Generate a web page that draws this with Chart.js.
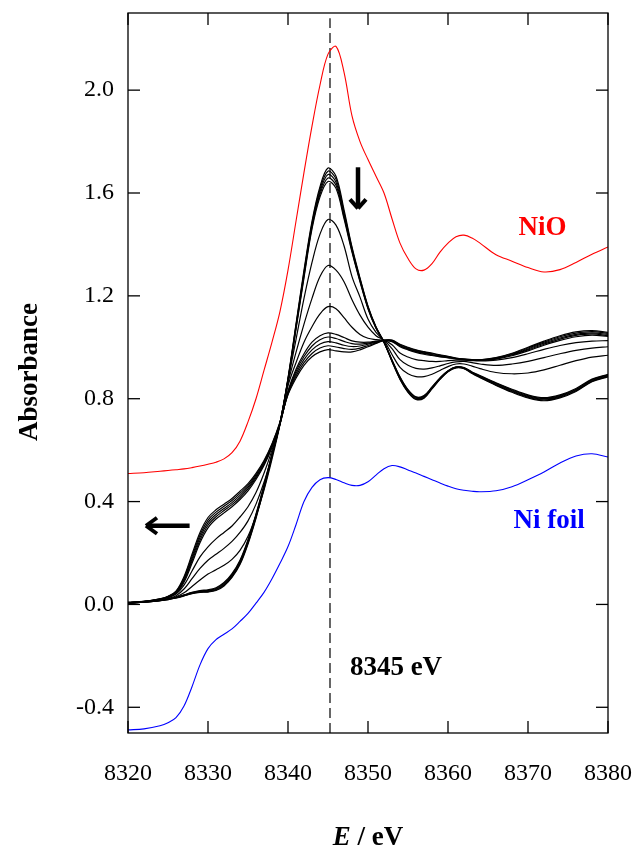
<!DOCTYPE html>
<html>
<head>
<meta charset="utf-8">
<script src="https://cdn.jsdelivr.net/npm/chart.js@4.4.1/dist/chart.umd.min.js"></script>
<style>
    html, body { margin: 0; padding: 0; background: #fff; }
    canvas { display: block; }
</style>
</head>
<body>
<canvas id="xanes" width="635" height="852"></canvas>
<script>
// photon energy grid (eV) shared by every spectrum
const ENERGY = [8320, 8322, 8324, 8325, 8326, 8327, 8328, 8329, 8330, 8331,
    8332, 8333, 8334, 8335, 8336, 8337, 8338, 8339, 8340, 8341,
    8342, 8343, 8344, 8345, 8346, 8347, 8348, 8349, 8350, 8351,
    8352, 8353, 8354, 8355, 8356, 8357, 8358, 8359, 8360, 8361,
    8362, 8363, 8364, 8366, 8368, 8370, 8372, 8374, 8376, 8378, 8380];

// reference spectra (offset)
const NIO = [0.509, 0.512, 0.518, 0.521, 0.524, 0.527, 0.532, 0.538, 0.545, 0.553,
    0.566, 0.59, 0.635, 0.71, 0.80, 0.91, 1.02, 1.14, 1.30, 1.49,
    1.68, 1.86, 2.02, 2.14, 2.17, 2.07, 1.90, 1.80, 1.73, 1.665,
    1.60, 1.50, 1.405, 1.345, 1.305, 1.30, 1.325, 1.37, 1.405, 1.43,
    1.436, 1.425, 1.405, 1.36, 1.335, 1.31, 1.293, 1.302, 1.33, 1.362, 1.39];
const NI_FOIL = [-0.488, -0.484, -0.472, -0.46, -0.44, -0.395, -0.32, -0.235, -0.172, -0.137,
    -0.116, -0.095, -0.066, -0.035, 0.005, 0.047, 0.10, 0.16, 0.225, 0.31,
    0.40, 0.455, 0.485, 0.493, 0.486, 0.473, 0.463, 0.463, 0.477, 0.503,
    0.528, 0.54, 0.535, 0.523, 0.511, 0.498, 0.485, 0.472, 0.46, 0.45,
    0.444, 0.44, 0.438, 0.442, 0.458, 0.485, 0.515, 0.55, 0.577, 0.586, 0.573];

// time series of the sample, first spectrum (high white line) to last
const SCAN_1 = [0.005, 0.009, 0.015, 0.019, 0.025, 0.033, 0.042, 0.047, 0.048, 0.054,
    0.072, 0.105, 0.155, 0.235, 0.335, 0.45, 0.575, 0.705, 0.88, 1.09,
    1.30, 1.49, 1.625, 1.697, 1.665, 1.535, 1.39, 1.27, 1.16, 1.08,
    1.02, 0.945, 0.875, 0.825, 0.797, 0.802, 0.838, 0.875, 0.905, 0.92,
    0.917, 0.898, 0.882, 0.852, 0.825, 0.803, 0.792, 0.803, 0.828, 0.866, 0.885];
const SCAN_2 = [0.005, 0.009, 0.015, 0.019, 0.025, 0.034, 0.043, 0.048, 0.05, 0.056,
    0.075, 0.108, 0.159, 0.239, 0.339, 0.453, 0.577, 0.705, 0.878, 1.085,
    1.292, 1.482, 1.615, 1.685, 1.654, 1.525, 1.385, 1.266, 1.158, 1.078,
    1.02, 0.946, 0.877, 0.827, 0.799, 0.804, 0.84, 0.876, 0.906, 0.921,
    0.918, 0.9, 0.884, 0.854, 0.828, 0.806, 0.795, 0.806, 0.831, 0.868, 0.887];
const SCAN_3 = [0.005, 0.009, 0.015, 0.02, 0.026, 0.035, 0.044, 0.05, 0.052, 0.059,
    0.078, 0.112, 0.163, 0.243, 0.343, 0.457, 0.58, 0.705, 0.875, 1.08,
    1.285, 1.475, 1.605, 1.672, 1.642, 1.515, 1.38, 1.262, 1.155, 1.077,
    1.02, 0.948, 0.88, 0.83, 0.802, 0.807, 0.842, 0.878, 0.907, 0.922,
    0.919, 0.901, 0.886, 0.857, 0.831, 0.809, 0.798, 0.809, 0.834, 0.871, 0.89];
const SCAN_4 = [0.005, 0.01, 0.016, 0.021, 0.027, 0.036, 0.046, 0.052, 0.055, 0.062,
    0.082, 0.116, 0.168, 0.248, 0.348, 0.461, 0.583, 0.706, 0.872, 1.075,
    1.278, 1.468, 1.595, 1.658, 1.63, 1.508, 1.375, 1.258, 1.152, 1.075,
    1.02, 0.95, 0.883, 0.833, 0.805, 0.81, 0.844, 0.88, 0.908, 0.923,
    0.92, 0.903, 0.888, 0.86, 0.834, 0.812, 0.801, 0.812, 0.837, 0.874, 0.893];
const SCAN_5 = [0.005, 0.01, 0.016, 0.021, 0.028, 0.037, 0.047, 0.054, 0.057, 0.065,
    0.085, 0.12, 0.172, 0.252, 0.352, 0.464, 0.586, 0.706, 0.87, 1.07,
    1.27, 1.46, 1.585, 1.645, 1.618, 1.5, 1.37, 1.255, 1.15, 1.074,
    1.02, 0.951, 0.885, 0.835, 0.807, 0.812, 0.846, 0.881, 0.909, 0.924,
    0.921, 0.904, 0.89, 0.862, 0.837, 0.815, 0.804, 0.815, 0.84, 0.876, 0.895];
const SCAN_6 = [0.005, 0.009, 0.016, 0.021, 0.03, 0.045, 0.07, 0.095, 0.118, 0.135,
    0.152, 0.175, 0.21, 0.265, 0.345, 0.445, 0.565, 0.70, 0.87, 1.03,
    1.19, 1.33, 1.44, 1.497, 1.475, 1.395, 1.275, 1.195, 1.11, 1.058,
    1.026, 0.972, 0.922, 0.897, 0.886, 0.886, 0.895, 0.91, 0.925, 0.935,
    0.935, 0.927, 0.917, 0.902, 0.897, 0.9, 0.912, 0.93, 0.948, 0.962, 0.969];
const SCAN_7 = [0.006, 0.01, 0.017, 0.023, 0.034, 0.06, 0.1, 0.14, 0.172, 0.195,
    0.218, 0.245, 0.28, 0.325, 0.39, 0.475, 0.58, 0.70, 0.86, 0.98,
    1.09, 1.19, 1.275, 1.318, 1.30, 1.255, 1.185, 1.125, 1.078, 1.045,
    1.027, 0.995, 0.952, 0.93, 0.918, 0.915, 0.92, 0.928, 0.937, 0.943,
    0.945, 0.94, 0.935, 0.93, 0.935, 0.945, 0.96, 0.975, 0.988, 0.997, 1.002];
const SCAN_8 = [0.007, 0.011, 0.019, 0.026, 0.04, 0.075, 0.13, 0.185, 0.224, 0.255,
    0.28, 0.305, 0.34, 0.38, 0.435, 0.51, 0.60, 0.705, 0.85, 0.94,
    1.02, 1.08, 1.13, 1.158, 1.15, 1.115, 1.078, 1.05, 1.035, 1.03,
    1.027, 1.01, 0.978, 0.962, 0.952, 0.948, 0.945, 0.945, 0.948, 0.95,
    0.95, 0.948, 0.947, 0.95, 0.96, 0.975, 0.992, 1.007, 1.018, 1.024, 1.026];
const SCAN_9 = [0.007, 0.011, 0.02, 0.028, 0.042, 0.086, 0.16, 0.24, 0.298, 0.332,
    0.356, 0.38, 0.408, 0.442, 0.486, 0.54, 0.61, 0.70, 0.83, 0.915,
    0.975, 1.02, 1.045, 1.056, 1.05, 1.038, 1.025, 1.02, 1.02, 1.024,
    1.027, 1.022, 1.002, 0.99, 0.98, 0.973, 0.968, 0.963, 0.959, 0.955,
    0.952, 0.95, 0.949, 0.954, 0.967, 0.986, 1.008, 1.027, 1.041, 1.047, 1.042];
const SCAN_10 = [0.007, 0.011, 0.02, 0.029, 0.045, 0.092, 0.169, 0.25, 0.308, 0.341,
    0.365, 0.388, 0.416, 0.449, 0.492, 0.545, 0.614, 0.703, 0.826, 0.906,
    0.964, 1.005, 1.029, 1.04, 1.034, 1.023, 1.014, 1.012, 1.016, 1.022,
    1.027, 1.024, 1.005, 0.993, 0.983, 0.976, 0.97, 0.965, 0.961, 0.956,
    0.953, 0.95, 0.95, 0.956, 0.97, 0.99, 1.012, 1.032, 1.046, 1.052, 1.046];
const SCAN_11 = [0.008, 0.012, 0.021, 0.03, 0.047, 0.097, 0.177, 0.26, 0.318, 0.35,
    0.373, 0.396, 0.424, 0.456, 0.498, 0.55, 0.618, 0.705, 0.822, 0.897,
    0.952, 0.99, 1.013, 1.022, 1.017, 1.008, 1.003, 1.005, 1.012, 1.02,
    1.027, 1.025, 1.007, 0.995, 0.985, 0.978, 0.972, 0.967, 0.962, 0.956,
    0.953, 0.951, 0.95, 0.957, 0.972, 0.993, 1.016, 1.036, 1.05, 1.056, 1.05];
const SCAN_12 = [0.008, 0.012, 0.022, 0.031, 0.05, 0.103, 0.186, 0.27, 0.328, 0.359,
    0.382, 0.404, 0.432, 0.463, 0.504, 0.555, 0.622, 0.708, 0.818, 0.888,
    0.94, 0.976, 0.997, 1.006, 1.001, 0.995, 0.992, 0.997, 1.007, 1.017,
    1.027, 1.027, 1.01, 0.998, 0.988, 0.981, 0.975, 0.969, 0.964, 0.957,
    0.954, 0.952, 0.951, 0.959, 0.975, 0.997, 1.02, 1.041, 1.055, 1.061, 1.054];
const SCAN_13 = [0.008, 0.012, 0.022, 0.032, 0.052, 0.108, 0.195, 0.28, 0.338, 0.368,
    0.39, 0.412, 0.44, 0.47, 0.51, 0.56, 0.625, 0.71, 0.815, 0.88,
    0.93, 0.963, 0.982, 0.991, 0.986, 0.982, 0.982, 0.99, 1.002, 1.015,
    1.027, 1.028, 1.012, 1.0, 0.99, 0.983, 0.977, 0.971, 0.965, 0.958,
    0.954, 0.952, 0.951, 0.96, 0.977, 1.0, 1.024, 1.045, 1.06, 1.065, 1.058];

const SCANS = [SCAN_1, SCAN_2, SCAN_3, SCAN_4, SCAN_5, SCAN_6, SCAN_7,
    SCAN_8, SCAN_9, SCAN_10, SCAN_11, SCAN_12, SCAN_13];

const X_TICKS = [8320, 8330, 8340, 8350, 8360, 8370, 8380];
const Y_TICKS = [-0.4, 0.0, 0.4, 0.8, 1.2, 1.6, 2.0];
const EDGE_MARK = 8345.25;   // dashed marker, labelled "8345 eV"

const SERIF = "'Liberation Serif', 'Times New Roman', serif";

function toPoints(values) {
    return values.map((v, i) => ({ x: ENERGY[i], y: v }));
}

function line(ctx, x1, y1, x2, y2) {
    ctx.beginPath();
    ctx.moveTo(x1, y1);
    ctx.lineTo(x2, y2);
    ctx.stroke();
}

// no extra room for tick labels, the plot box is fixed by the layout padding
function noOverflow(s) {
    s.paddingLeft = 0;
    s.paddingRight = 0;
    s.paddingTop = 0;
    s.paddingBottom = 0;
}

// frame with inward ticks, arrows and the in-plot labels
const decorations = {
    id: "decorations",
    afterDatasetsDraw(chart) {
        const { ctx, chartArea: a, scales: { x, y } } = chart;
        ctx.save();

        ctx.strokeStyle = "#000";
        ctx.lineWidth = 1.3;
        ctx.strokeRect(a.left, a.top, a.width, a.height);

        const len = 12;
        X_TICKS.forEach(v => {
            const px = x.getPixelForValue(v);
            line(ctx, px, a.bottom, px, a.bottom - len);
            line(ctx, px, a.top, px, a.top + len);
        });
        Y_TICKS.forEach(v => {
            const py = y.getPixelForValue(v);
            line(ctx, a.left, py, a.left + len, py);
            line(ctx, a.right, py, a.right - len, py);
        });

        // down arrow: white line decreases
        ctx.lineWidth = 4.5;
        ctx.lineCap = "butt";
        const ax = x.getPixelForValue(8348.75);
        const aTop = y.getPixelForValue(1.70);
        const aTip = y.getPixelForValue(1.54);
        line(ctx, ax, aTop, ax, aTip - 2);
        ctx.lineWidth = 4;
        line(ctx, ax, aTip, ax - 8, aTip - 9);
        line(ctx, ax, aTip, ax + 8, aTip - 9);

        // left arrow: edge shifts to lower energy
        const ly = y.getPixelForValue(0.306);
        const lTip = x.getPixelForValue(8322.25);
        const lTail = x.getPixelForValue(8327.7);
        ctx.lineWidth = 4.5;
        line(ctx, lTail, ly, lTip + 2, ly);
        ctx.lineWidth = 4;
        line(ctx, lTip, ly, lTip + 11, ly - 8);
        line(ctx, lTip, ly, lTip + 11, ly + 8);

        ctx.textAlign = "center";
        ctx.textBaseline = "middle";
        ctx.font = "bold 27px " + SERIF;
        ctx.fillStyle = "#ff0000";
        ctx.fillText("NiO", x.getPixelForValue(8371.8), y.getPixelForValue(1.463));
        ctx.fillStyle = "#0000ff";
        ctx.fillText("Ni foil", x.getPixelForValue(8372.65), y.getPixelForValue(0.326));
        ctx.fillStyle = "#000";
        ctx.fillText("8345 eV", x.getPixelForValue(8353.5), y.getPixelForValue(-0.247));

        // axis titles
        const italicE = "italic bold 27px " + SERIF;
        const rest = "bold 27px " + SERIF;
        ctx.font = italicE;
        const wE = ctx.measureText("E").width;
        ctx.font = rest;
        const wRest = ctx.measureText(" / eV").width;
        const startX = 368 - (wE + wRest) / 2;
        ctx.textAlign = "left";
        ctx.font = italicE;
        ctx.fillText("E", startX, 838);
        ctx.font = rest;
        ctx.fillText(" / eV", startX + wE, 838);

        ctx.translate(30, 372);
        ctx.rotate(-Math.PI / 2);
        ctx.textAlign = "center";
        ctx.font = "bold 27px " + SERIF;
        ctx.fillText("Absorbance", 0, 0);

        ctx.restore();
    }
};

const datasets = [];
SCANS.forEach((scan, i) => {
    datasets.push({
        label: "scan " + (i + 1),
        data: toPoints(scan),
        borderColor: "#000",
        borderWidth: 1.2,
        pointRadius: 0,
        tension: 0.35,
        fill: false
    });
});
datasets.push({
    label: "NiO",
    data: toPoints(NIO),
    borderColor: "#ff0000",
    borderWidth: 1.1,
    pointRadius: 0,
    tension: 0.35,
    fill: false
});
datasets.push({
    label: "Ni foil",
    data: toPoints(NI_FOIL),
    borderColor: "#0000ff",
    borderWidth: 1.1,
    pointRadius: 0,
    tension: 0.35,
    fill: false
});
datasets.push({
    label: "8345 eV",
    data: [{ x: EDGE_MARK, y: -0.5 }, { x: EDGE_MARK, y: 2.28 }],
    borderColor: "#000",
    borderWidth: 1.2,
    borderDash: [10, 5],
    pointRadius: 0,
    fill: false
});

new Chart(document.getElementById("xanes"), {
    type: "line",
    data: { datasets },
    options: {
        responsive: false,
        animation: false,
        devicePixelRatio: 1,
        layout: { padding: { top: 13, right: 27, left: 0, bottom: 0 } },
        plugins: {
            legend: { display: false },
            tooltip: { enabled: false }
        },
        scales: {
            x: {
                type: "linear",
                min: 8320,
                max: 8380,
                afterBuildTicks: s => { s.ticks = X_TICKS.map(v => ({ value: v })); },
                afterFit: s => { s.height = 119; noOverflow(s); },
                grid: { display: false, drawTicks: false },
                border: { display: false },
                ticks: {
                    padding: 26,
                    autoSkip: false,
                    maxRotation: 0,
                    color: "#000",
                    font: { family: SERIF, size: 24 },
                    callback: v => String(v)
                }
            },
            y: {
                min: -0.5,
                max: 2.3,
                afterBuildTicks: s => { s.ticks = Y_TICKS.map(v => ({ value: v })); },
                afterFit: s => { s.width = 128; noOverflow(s); },
                grid: { display: false, drawTicks: false },
                border: { display: false },
                ticks: {
                    padding: 14,
                    color: "#000",
                    font: { family: SERIF, size: 24 },
                    callback: v => Number(v).toFixed(1)
                }
            }
        }
    },
    plugins: [decorations]
});
</script>
</body>
</html>
